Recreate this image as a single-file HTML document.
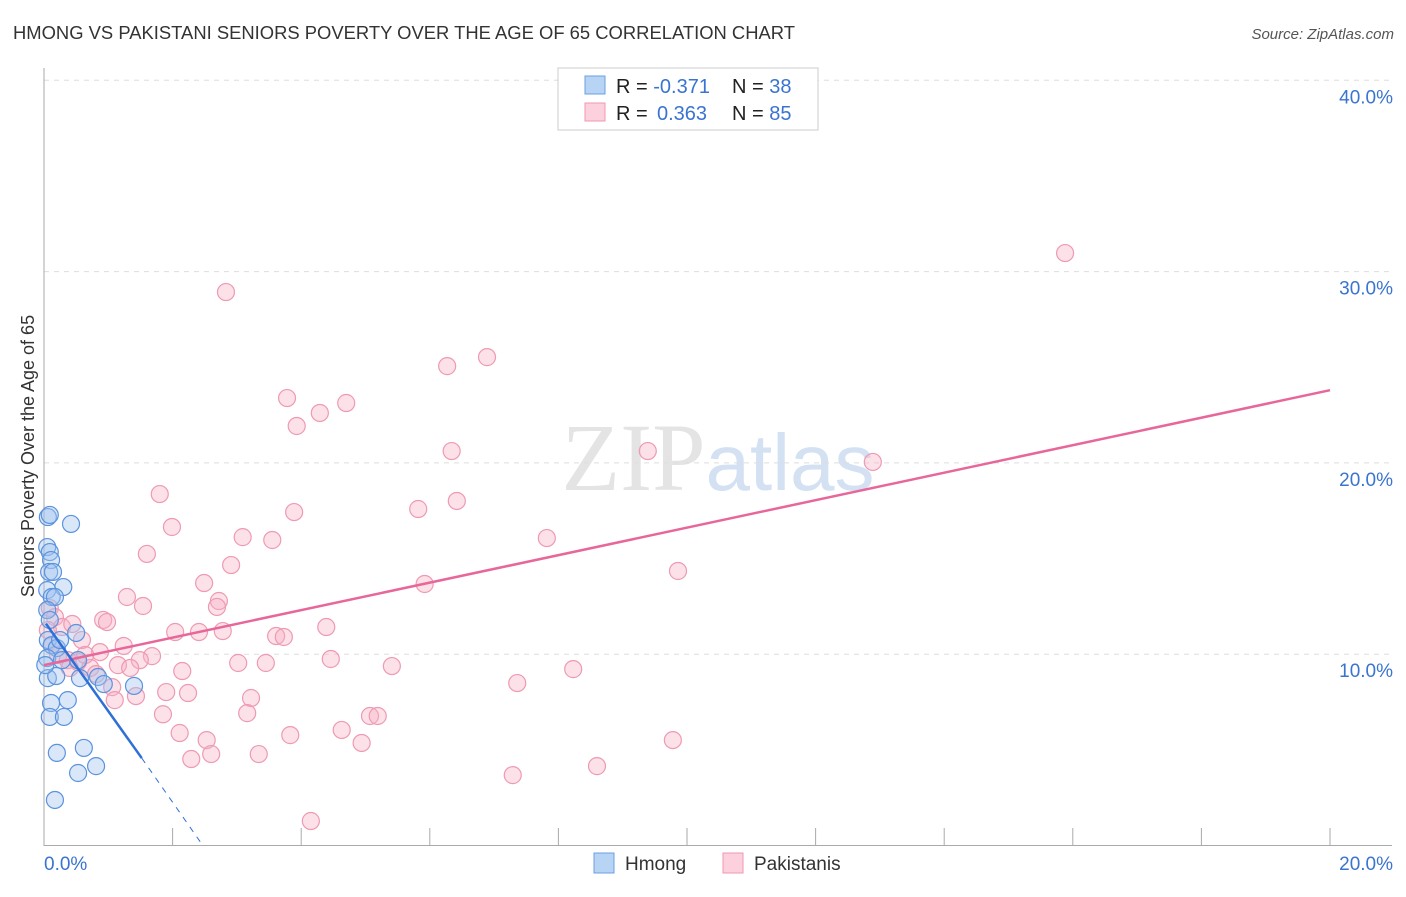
<!DOCTYPE html>
<html><head><meta charset="utf-8"><style>
body{margin:0;background:#fff;font-family:"Liberation Sans",sans-serif;}
</style></head><body>
<svg id="chart" width="1406" height="892" xmlns="http://www.w3.org/2000/svg">
<text x="13" y="39" font-size="18" fill="#333" textLength="782" lengthAdjust="spacingAndGlyphs">HMONG VS PAKISTANI SENIORS POVERTY OVER THE AGE OF 65 CORRELATION CHART</text>
<text x="1394" y="39" font-size="15" fill="#555" text-anchor="end" font-style="italic">Source: ZipAtlas.com</text>
<text x="718" y="490" font-size="96" text-anchor="middle" fill="#e4e4e4" font-family="Liberation Serif">ZIP<tspan fill="#d3e1f3" font-family="Liberation Sans" font-size="80">atlas</tspan></text>
<g id="grid"></g><g id="axes"></g><g id="pts"></g><g id="lines"></g>
<text transform="translate(34,456) rotate(-90)" font-size="18" fill="#333" text-anchor="middle">Seniors Poverty Over the Age of 65</text>
<g>
<rect x="558" y="68" width="260" height="62" fill="#fff" stroke="#ccc"/>
<rect x="585" y="76" width="20" height="18" fill="#b8d4f5" stroke="#6a9fe0"/>
<rect x="585" y="103" width="20" height="18" fill="#fcd0dc" stroke="#ee9ab2"/>
<text x="616" y="93" font-size="20" fill="#222">R = <tspan fill="#3a74d0">-0.371</tspan><tspan x="732">N = </tspan><tspan fill="#3a74d0">38</tspan></text>
<text x="616" y="120" font-size="20" fill="#222">R = <tspan fill="#3a74d0" x="657">0.363</tspan><tspan x="732">N = </tspan><tspan fill="#3a74d0">85</tspan></text>
</g>
<g>
<rect x="594" y="853" width="20" height="20" fill="#b8d4f5" stroke="#6a9fe0"/>
<text x="625" y="870" font-size="19" fill="#333">Hmong</text>
<rect x="723" y="853" width="20" height="20" fill="#fcd0dc" stroke="#ee9ab2"/>
<text x="754" y="870" font-size="19" fill="#333">Pakistanis</text>
</g>
</svg>
<script>
const hmongX=[0.06,0.09,0.42,0.05,0.09,0.11,0.08,0.14,0.30,0.05,0.12,0.17,0.05,0.09,0.50,0.06,0.12,0.20,0.05,0.28,0.53,0.06,0.19,0.56,0.84,0.93,1.40,0.37,0.11,0.09,0.31,0.20,0.62,0.53,0.81,0.17,0.25,0.02];
const hmongY=[17.17,17.28,16.81,15.60,15.34,14.92,14.30,14.30,13.51,13.35,12.99,12.99,12.31,11.79,11.11,10.74,10.47,10.32,9.80,9.69,9.69,8.75,8.86,8.75,8.81,8.44,8.34,7.60,7.45,6.72,6.72,4.84,5.10,3.79,4.15,2.38,10.74,9.43];
const pakX=[2.83,15.88,6.89,6.27,4.70,3.78,4.29,3.93,6.34,9.39,12.89,1.80,6.42,5.82,3.89,1.99,3.09,7.82,3.55,1.60,2.91,9.86,2.49,5.92,1.29,2.72,2.69,1.54,0.92,0.98,4.39,2.04,2.41,2.78,3.61,3.73,0.09,0.17,0.28,0.44,0.59,1.24,0.87,1.68,0.22,0.37,0.53,1.49,1.15,1.34,2.15,3.02,3.45,4.46,5.41,8.23,0.72,0.81,1.06,1.90,2.24,3.22,7.36,1.10,1.43,1.85,3.16,5.07,5.19,4.63,2.11,3.83,2.53,4.94,2.60,3.34,2.29,9.78,8.60,7.29,4.15,0.40,0.06,0.12,0.64];
const pakY=[28.93,30.97,25.53,25.06,23.13,23.39,22.61,21.93,20.62,20.62,20.05,18.37,18.01,17.59,17.43,16.65,16.12,16.07,15.97,15.24,14.66,14.35,13.72,13.67,12.99,12.78,12.47,12.52,11.79,11.68,11.42,11.16,11.16,11.21,10.95,10.90,12.41,11.94,11.42,11.58,10.74,10.43,10.11,9.90,9.96,9.69,9.59,9.69,9.43,9.28,9.12,9.54,9.54,9.75,9.38,9.22,9.28,8.96,8.28,8.02,7.97,7.71,8.49,7.60,7.81,6.86,6.92,6.77,6.77,6.04,5.88,5.77,5.51,5.36,4.78,4.78,4.52,5.51,4.15,3.68,1.28,9.28,11.26,10.47,9.96];
const yTicks=[10,20,30,40];
const yTickLabels=["10.0%","20.0%","30.0%","40.0%"];
const xTicks=[2,4,6,8,10,12,14,16,18,20];
const pakTrend=[[0,9.43],[20,23.8]];
const hmongTrend=[[0.03,11.6],[1.52,4.57]];
const hmongDash=[[1.52,4.57],[2.47,0]];
const NS="http://www.w3.org/2000/svg";
const X=v=>44+v/20*1286, Y=v=>845.5-v*19.13;
function mk(tag,attrs,parent){const e=document.createElementNS(NS,tag);for(const k in attrs)e.setAttribute(k,attrs[k]);document.getElementById(parent).appendChild(e);return e;}
yTicks.forEach((t,i)=>{
 const g=mk('line',{x1:44,x2:1392,y1:Y(t),y2:Y(t),stroke:'#ddd','stroke-dasharray':'5,5'},'grid');
 
 
 const tx=mk('text',{x:1393,y:Y(t)+23,'font-size':19,fill:'#3a74d0','text-anchor':'end'},'grid');
 tx.textContent=yTickLabels[i];
 
 
});
const ya=mk('line',{x1:44,x2:44,y1:68,y2:846,stroke:'#aaa'},'axes');


const xa=mk('line',{x1:44,x2:1392,y1:845.5,y2:845.5,stroke:'#aaa'},'axes');


xTicks.forEach(t=>{const l=mk('line',{x1:X(t),x2:X(t),y1:828,y2:845,stroke:'#aaa'},'axes');
 
 });
const x0=mk('text',{x:44,y:870,'font-size':19,fill:'#3a74d0'},'axes');x0.textContent='0.0%';


const x1=mk('text',{x:1393,y:870,'font-size':19,fill:'#3a74d0','text-anchor':'end'},'axes');x1.textContent='20.0%';


pakX.forEach((v,i)=>{const c=mk('circle',{cx:X(v),cy:Y(pakY[i]),r:8.5,fill:'rgba(248,175,198,0.38)',stroke:'#ee9ab2','stroke-width':1.2},'pts');
 
 });
hmongX.forEach((v,i)=>{const c=mk('circle',{cx:X(v),cy:Y(hmongY[i]),r:8.5,fill:'rgba(160,196,240,0.4)',stroke:'#5b93dd','stroke-width':1.2},'pts');
 
 });
const pl=mk('line',{x1:X(pakTrend[0][0]),y1:Y(pakTrend[0][1]),x2:X(pakTrend[1][0]),y2:Y(pakTrend[1][1]),stroke:'#e8679a','stroke-width':2.5},'lines');


const hl=mk('line',{x1:X(hmongTrend[0][0]),y1:Y(hmongTrend[0][1]),x2:X(hmongTrend[1][0]),y2:Y(hmongTrend[1][1]),stroke:'#2f6fd6','stroke-width':2.5},'lines');


const hd=mk('line',{x1:X(hmongDash[0][0]),y1:Y(hmongDash[0][1]),x2:X(hmongDash[1][0]),y2:Y(hmongDash[1][1]),stroke:'#2f6fd6','stroke-width':1,'stroke-dasharray':'6,6'},'lines');


</script>
</body></html>
